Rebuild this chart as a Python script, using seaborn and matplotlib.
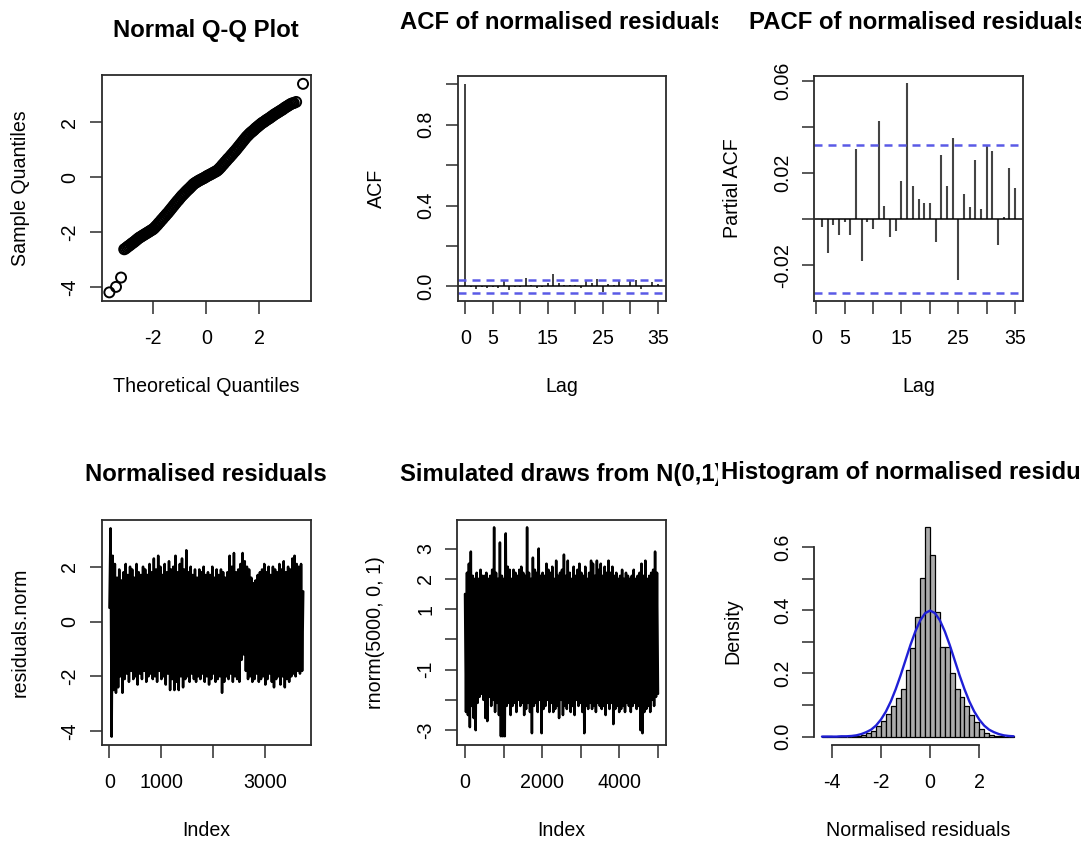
import numpy as np
import matplotlib
matplotlib.use("Agg")
import matplotlib.pyplot as plt
import seaborn as sns
from matplotlib.transforms import Bbox, TransformedBbox

sns.set_style("white")
plt.rcParams['font.family'] = ['Liberation Sans', 'DejaVu Sans']
plt.rcParams['text.color'] = 'black'
plt.rcParams['axes.labelcolor'] = 'black'

# ---------------- data ----------------
qq_theoretical = [
    -3.66, -3.41, -3.22,
    -3.10, -3.05, -3.00, -2.95, -2.90, -2.85, -2.80, -2.75, -2.70, -2.65, -2.60, -2.55,
    -2.50, -2.45, -2.40, -2.35, -2.30, -2.25, -2.20, -2.15, -2.10, -2.05, -2.00, -1.95,
    -1.90, -1.85, -1.80, -1.75, -1.70, -1.65, -1.60, -1.55, -1.50, -1.45, -1.40, -1.35,
    -1.30, -1.25, -1.20, -1.15, -1.10, -1.05, -1.00, -0.95, -0.90, -0.85, -0.80, -0.75,
    -0.70, -0.65, -0.60, -0.55, -0.50, -0.45, -0.40, -0.35, -0.30, -0.25, -0.20, -0.15,
    -0.10, -0.05, 0.00, 0.05, 0.10, 0.15, 0.20, 0.25, 0.30, 0.35, 0.40, 0.45, 0.50,
    0.55, 0.60, 0.65, 0.70, 0.75, 0.80, 0.85, 0.90, 0.95, 1.00, 1.05, 1.10, 1.15, 1.20,
    1.25, 1.30, 1.35, 1.40, 1.45, 1.50, 1.55, 1.60, 1.65, 1.70, 1.75, 1.80, 1.85, 1.90,
    1.95, 2.00, 2.05, 2.10, 2.15, 2.20, 2.25, 2.30, 2.35, 2.40, 2.45, 2.50, 2.55, 2.60,
    2.65, 2.70, 2.75, 2.80, 2.85, 2.90, 2.95, 3.00, 3.05, 3.10, 3.15, 3.20, 3.25, 3.30,
    3.39, 3.65]
qq_sample = [
    -4.20, -4.00, -3.66,
    -2.63, -2.60, -2.56, -2.52, -2.49, -2.45, -2.41, -2.38, -2.34, -2.30, -2.26, -2.22,
    -2.19, -2.16, -2.13, -2.10, -2.07, -2.04, -2.01, -1.98, -1.95, -1.92, -1.89, -1.84,
    -1.79, -1.74, -1.68, -1.63, -1.57, -1.52, -1.46, -1.41, -1.35, -1.30, -1.24, -1.18,
    -1.12, -1.06, -1.00, -0.94, -0.88, -0.83, -0.77, -0.71, -0.66, -0.61, -0.56, -0.51,
    -0.46, -0.42, -0.37, -0.32, -0.27, -0.23, -0.20, -0.17, -0.14, -0.11, -0.09, -0.06,
    -0.04, -0.01, 0.02, 0.05, 0.07, 0.10, 0.12, 0.15, 0.18, 0.20, 0.23, 0.27, 0.32,
    0.37, 0.43, 0.48, 0.54, 0.59, 0.65, 0.70, 0.75, 0.81, 0.86, 0.92, 0.97, 1.03, 1.09,
    1.15, 1.21, 1.27, 1.33, 1.39, 1.45, 1.50, 1.55, 1.60, 1.64, 1.68, 1.72, 1.77, 1.81,
    1.85, 1.89, 1.93, 1.97, 2.00, 2.03, 2.07, 2.10, 2.13, 2.16, 2.20, 2.23, 2.27, 2.30,
    2.33, 2.36, 2.39, 2.42, 2.45, 2.48, 2.52, 2.55, 2.58, 2.61, 2.64, 2.67, 2.69, 2.70,
    2.74, 3.40]

acf_lags = list(range(0, 36))
acf_values = [1.0,
    -0.0033, -0.0145, -0.0026, -0.0069, -0.0014, -0.0069, 0.0305, -0.0181, -0.0012,
    -0.0043, 0.0423, 0.0056, -0.0076, -0.0050, 0.0166, 0.0589, 0.0143, 0.0085, 0.0068,
    0.0068, -0.0098, 0.0276, 0.0143, 0.0351, -0.0266, 0.0107, 0.0053, 0.0258, 0.0042,
    0.0318, 0.0295, -0.0112, 0.0010, 0.0223, 0.0134]
acf_ci = 0.031

pacf_lags = list(range(1, 36))
pacf_values = [
    -0.0033, -0.0145, -0.0026, -0.0069, -0.0014, -0.0069, 0.0305, -0.0181, -0.0012,
    -0.0043, 0.0423, 0.0056, -0.0076, -0.0050, 0.0166, 0.0589, 0.0143, 0.0085, 0.0068,
    0.0068, -0.0098, 0.0276, 0.0143, 0.0351, -0.0266, 0.0107, 0.0053, 0.0258, 0.0042,
    0.0318, 0.0295, -0.0112, 0.0010, 0.0223, 0.0134]
pacf_ci = 0.032

# normalised residuals (tenths), n = 3740 observations
resid_n = 3740
resid_tenths = [
    5, 34, -42, 24, -25, 21, -26, 16, -24, 19,
    -20, 15, -26, 18, -21, 21, -19, 17, -22, 20,
    -18, 19, -21, 16, -20, 21, -23, 18, -19, 17,
    -21, 20, -18, 19, -22, 17, -20, 21, -19, 18,
    -21, 23, -20, 19, -22, 24, -18, 20, -21, 17,
    -20, 21, -23, 18, -19, 22, -25, 19, -21, 20,
    -25, 24, -22, 18, -25, 21, -20, 23, -24, 19,
    -21, 26, -20, 18, -22, 20, -19, 17, -21, 19,
    -22, 16, -20, 19, -21, 18, -19, 20, -22, 17,
    -20, 18, -23, 17, -21, 20, -19, 16, -22, 19,
    -21, 17, -20, 19, -26, 18, -22, 16, -20, 18,
    -21, 24, -19, 20, -22, 25, -20, 18, -21, 19,
    -22, 21, -14, 25, -12, 22, -18, 20, -21, 19,
    -20, 16, -22, 14, -21, 15, -19, 17, -22, 18,
    -21, 19, -20, 21, -23, 18, -21, 20, -19, 17,
    -22, 20, -24, 19, -21, 18, -20, 21, -23, 19,
    -20, 22, -24, 18, -21, 20, -22, 19, -20, 23,
    -19, 24, -20, 21, -18, 20, -19, 21, -18, 11]

# simulated N(0,1) draws (tenths), n = 5000 observations
sim_n = 5000
sim_tenths = [
    15, -24, 22, -25, 25, -29, 29, -22, 21, -26,
    20, -30, 22, -21, 20, -19, 23, -18, 21, -20,
    21, -26, 22, -27, 20, -19, 21, -22, 23, -20,
    37, -24, 22, -21, 20, -25, 32, -32, 21, -32,
    20, -32, 35, -22, 24, -21, 23, -25, 20, -22,
    23, -21, 22, -24, 21, -20, 23, -22, 24, -21,
    22, -25, 21, -23, 37, -21, 22, -24, 20, -31,
    27, -22, 23, -21, 22, -24, 30, -20, 21, -31,
    22, -23, 21, -22, 25, -20, 23, -24, 22, -21,
    24, -24, 20, -23, 26, -22, 21, -26, 22, -20,
    23, -25, 28, -22, 21, -23, 26, -21, 22, -24,
    20, -22, 24, -25, 21, -20, 23, -22, 25, -21,
    22, -24, 21, -31, 24, -22, 20, -23, 22, -21,
    26, -23, 25, -22, 21, -24, 26, -21, 23, -22,
    25, -23, 21, -22, 24, -25, 22, -21, 26, -23,
    22, -21, 24, -28, 21, -23, 22, -22, 20, -24,
    21, -23, 23, -22, 20, -24, 22, -21, 21, -22,
    20, -24, 21, -22, 23, -21, 20, -23, 21, -22,
    22, -30, 25, -31, 21, -24, 26, -23, 20, -22,
    21, -24, 22, -20, 23, -22, 29, -19, 22, -18]

hist_breaks = [
    -4.4, -4.2, -4.0, -3.8, -3.6, -3.4, -3.2, -3.0, -2.8, -2.6, -2.4, -2.2, -2.0, -1.8,
    -1.6, -1.4, -1.2, -1.0, -0.8, -0.6, -0.4, -0.2, 0.0, 0.2, 0.4, 0.6, 0.8, 1.0, 1.2,
    1.4, 1.6, 1.8, 2.0, 2.2, 2.4, 2.6, 2.8, 3.0, 3.2, 3.4]
hist_density = [
    0.0013, 0.0013, 0.0, 0.0013, 0.0, 0.0, 0.0013, 0.0027, 0.005, 0.010, 0.018, 0.032,
    0.048, 0.070, 0.098, 0.122, 0.152, 0.210, 0.279, 0.380, 0.502, 0.665, 0.575, 0.396,
    0.283, 0.283, 0.200, 0.152, 0.125, 0.098, 0.068, 0.046, 0.025, 0.012, 0.006, 0.003,
    0.0013, 0.0, 0.0013]

curve_x = [
    -4.4, -4.2, -4.0, -3.8, -3.6, -3.4, -3.2, -3.0, -2.8, -2.6, -2.4, -2.2, -2.0, -1.8,
    -1.6, -1.4, -1.2, -1.0, -0.8, -0.6, -0.4, -0.2, 0.0, 0.2, 0.4, 0.6, 0.8, 1.0, 1.2,
    1.4, 1.6, 1.8, 2.0, 2.2, 2.4, 2.6, 2.8, 3.0, 3.2, 3.4]
curve_y = [
    0.000, 0.000, 0.000, 0.000, 0.001, 0.001, 0.002, 0.004, 0.008, 0.014, 0.022, 0.035,
    0.054, 0.079, 0.111, 0.150, 0.194, 0.242, 0.290, 0.333, 0.368, 0.391, 0.399, 0.391,
    0.368, 0.333, 0.290, 0.242, 0.194, 0.150, 0.111, 0.079, 0.054, 0.035, 0.022, 0.014,
    0.008, 0.004, 0.002, 0.001]

# ---------------- styling ----------------
W, H = 1081, 844
FS = 14.1
FT = 17.2
EDGE = '#2b2b2b'
CI_COL = '#5a5ae6'
XPAD, YPAD = 11.5, 7

fig = plt.figure(figsize=(W / 100, H / 100), dpi=100)


def px_ax(l, t, r, b):
    ax = fig.add_axes([l / W, 1 - b / H, (r - l) / W, (b - t) / H])
    ax.set_facecolor('white')
    return ax, (r - l), (b - t)


def finish(ax, wpx, hpx, xt, xtl, yt, ytl, xlabel, ylabel, title, tpad, clipx, box=True):
    ax.set_xticks(xt)
    ax.set_xticklabels(xtl)
    ax.set_yticks(yt)
    ax.set_yticklabels(ytl, rotation=90, va='center')
    ax.tick_params(axis='both', which='major', direction='out', length=9, width=1.1,
                   color=EDGE, labelsize=FS, labelcolor='black')
    ax.tick_params(axis='x', pad=XPAD, bottom=True, top=False)
    ax.tick_params(axis='y', pad=YPAD, left=True, right=False)
    for s in ax.spines.values():
        s.set_linewidth(1.3)
        s.set_color(EDGE)
        s.set_visible(box)
    ax.set_xlabel(xlabel, fontsize=FS, color='black')
    ax.xaxis.set_label_coords(0.5, -91 / hpx)
    ax.xaxis.label.set_va('baseline')
    ax.set_ylabel(ylabel, fontsize=FS, color='black')
    ax.yaxis.set_label_coords(-76 / wpx, 0.5)
    ax.yaxis.label.set_rotation_mode('anchor')
    ax.yaxis.label.set_va('baseline')
    ax.yaxis.label.set_ha('center')
    t = ax.set_title(title, fontsize=FT, fontweight='bold', pad=tpad, color='black')
    t.set_clip_box(TransformedBbox(Bbox([[clipx[0] / W, 0], [clipx[1] / W, 1]]),
                                   fig.transFigure))
    t.set_clip_on(True)


cols = [(0, 360), (360, 718), (720.5, W)]

# ---- 1. Normal Q-Q plot ----
ax, w, h = px_ax(101.7, 75.5, 310.7, 300.7)
sns.scatterplot(x=qq_theoretical, y=qq_sample, ax=ax, marker='o', s=52,
                facecolors='none', edgecolor='black', linewidth=1.4, legend=False)
ax.set_xlim(-3.95, 3.94)
ax.set_ylim(-4.504, 3.704)
finish(ax, w, h, [-2, 0, 2], ['-2', '0', '2'], [-4, -2, 0, 2], ['-4', '-2', '0', '2'],
       'Theoretical Quantiles', 'Sample Quantiles', 'Normal Q-Q Plot', 28, cols[0])

# ---- 2. ACF ----
ax, w, h = px_ax(457.7, 76, 665.5, 301)
ax.vlines(acf_lags, 0, acf_values, color='#333333', linewidth=1.3)
ax.axhline(0, color='black', linewidth=1.1)
for c in (acf_ci, -acf_ci):
    ax.axhline(c, color=CI_COL, linewidth=1.8, linestyle=(0, (3.2, 2.4)))
ax.set_xlim(-1.4, 36.4)
ax.set_ylim(-0.0724, 1.0414)
finish(ax, w, h, [0, 5, 10, 15, 20, 25, 30, 35], ['0', '5', '', '15', '', '25', '', '35'],
       [0, 0.2, 0.4, 0.6, 0.8, 1.0], ['0.0', '', '0.4', '', '0.8', ''],
       'Lag', 'ACF', 'ACF of normalised residuals', 33.5, cols[1])

# ---- 3. PACF ----
ax, w, h = px_ax(814.3, 76, 1022.7, 301)
ax.vlines(pacf_lags, 0, pacf_values, color='#444444', linewidth=1.5)
ax.axhline(0, color='black', linewidth=1.1)
for c in (pacf_ci, -pacf_ci):
    ax.axhline(c, color=CI_COL, linewidth=1.8, linestyle=(0, (3.2, 2.4)))
ax.set_xlim(-0.36, 36.36)
ax.set_ylim(-0.0355, 0.062)
finish(ax, w, h, [0, 5, 10, 15, 20, 25, 30, 35], ['0', '5', '', '15', '', '25', '', '35'],
       [-0.02, 0.0, 0.02, 0.04, 0.06], ['-0.02', '', '0.02', '', '0.06'],
       'Lag', 'Partial ACF', 'PACF of normalised residuals', 33.5, cols[2])

# ---- 4. Normalised residuals ----
ax, w, h = px_ax(101.7, 520, 311, 745)
resid_vals = np.array(resid_tenths) / 10.0
resid_idx = np.linspace(1, resid_n, len(resid_vals))
sns.lineplot(x=resid_idx, y=resid_vals, ax=ax, color='black', linewidth=1.8,
             estimator=None, sort=False)
ax.set_xlim(-149, 3890)
ax.set_ylim(-4.504, 3.704)
finish(ax, w, h, [0, 1000, 2000, 3000], ['0', '1000', '', '3000'],
       [-4, -2, 0, 2], ['-4', '-2', '0', '2'],
       'Index', 'residuals.norm', 'Normalised residuals', 28, cols[0])

# ---- 5. Simulated draws ----
ax, w, h = px_ax(457.3, 519.5, 665.7, 745)
sim_vals = np.array(sim_tenths) / 10.0
sim_idx = np.linspace(1, sim_n, len(sim_vals))
sns.lineplot(x=sim_idx, y=sim_vals, ax=ax, color='black', linewidth=1.8,
             estimator=None, sort=False)
ax.set_xlim(-199, 5200)
ax.set_ylim(-3.49, 3.96)
finish(ax, w, h, [0, 1000, 2000, 3000, 4000, 5000], ['0', '', '2000', '', '4000', ''],
       [-3, -2, -1, 0, 1, 2, 3], ['-3', '', '-1', '', '1', '2', '3'],
       'Index', 'rnorm(5000, 0, 1)', 'Simulated draws from N(0,1)', 28, cols[1])

# ---- 6. Histogram ----
ax, w, h = px_ax(814.3, 518.2, 1021.3, 745)
hist_mids = [(a + b) / 2 for a, b in zip(hist_breaks[:-1], hist_breaks[1:])]
sns.histplot(x=hist_mids, weights=hist_density, bins=hist_breaks, stat='count', ax=ax,
             color='#ababab', edgecolor='black', linewidth=0.9, alpha=1.0)
sns.lineplot(x=curve_x, y=curve_y, ax=ax, color='#1f1fd6', linewidth=1.7,
             estimator=None, sort=False)
ax.set_xlim(-4.712, 3.712)
ax.set_ylim(-0.0266, 0.6916)
finish(ax, w, h, [-4, -2, 0, 2], ['-4', '-2', '0', '2'],
       [0, 0.1, 0.2, 0.3, 0.4, 0.5, 0.6], ['0.0', '', '0.2', '', '0.4', '', '0.6'],
       'Normalised residuals', 'Density', 'Histogram of normalised residuals', 28, cols[2],
       box=False)
ax.spines['left'].set_visible(True)
ax.spines['bottom'].set_visible(True)
ax.spines['left'].set_bounds(0, 0.6)
ax.spines['bottom'].set_bounds(-4, 2)

fig.savefig('out.png', dpi=100, facecolor='white')
